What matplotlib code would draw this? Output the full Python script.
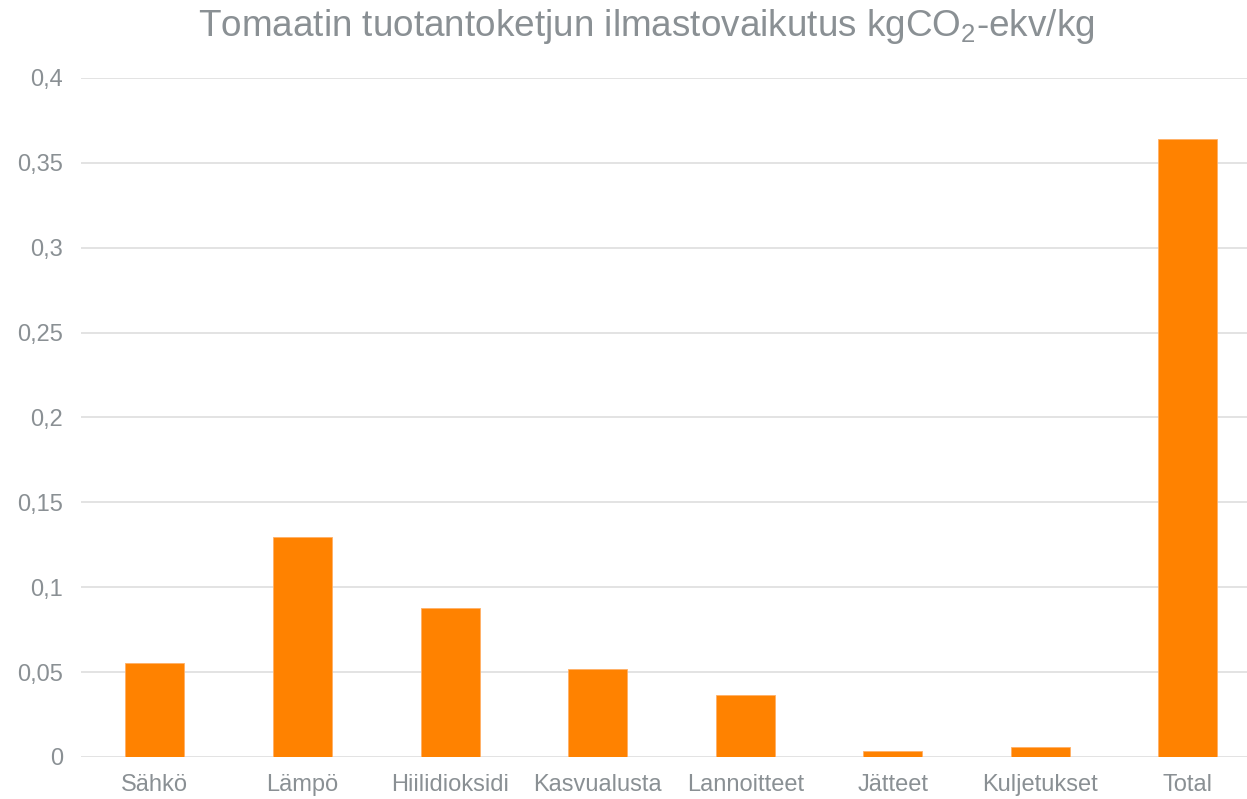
import matplotlib
matplotlib.use("Agg")
import matplotlib.pyplot as plt

# data
kategoriat = ["Sähkö", "Lämpö", "Hiilidioksidi", "Kasvualusta", "Lannoitteet", "Jätteet", "Kuljetukset", "Total"]
arvot = [0.0555, 0.1296, 0.0878, 0.0518, 0.0366, 0.0034, 0.0058, 0.3643]
y_ticks = [0, 0.05, 0.1, 0.15, 0.2, 0.25, 0.3, 0.35, 0.4]
y_labels = ["0", "0,05", "0,1", "0,15", "0,2", "0,25", "0,3", "0,35", "0,4"]

plt.rcParams['font.family'] = ['Liberation Sans', 'DejaVu Sans']
teksti = '#8a9094'

fig = plt.figure(figsize=(12.47, 7.99), dpi=100)
ax = fig.add_axes([0.065, 0.0526, 0.935, 0.8498])

x = list(range(len(kategoriat)))
ax.bar(x, arvot, width=0.4, color='#FF8200', edgecolor='#FFB066', linewidth=0.6, zorder=3)

ax.set_xlim(-0.5, 7.4)
ax.set_ylim(0, 0.4)
ax.set_yticks(y_ticks)
ax.set_yticklabels(y_labels)
ax.set_xticks(x)
ax.set_xticklabels(kategoriat)
ax.tick_params(axis='both', length=0, labelsize=17, labelcolor=teksti)
ax.tick_params(axis='y', pad=13)
ax.tick_params(axis='x', pad=12)
ax.grid(axis='y', color='#e0e0e0', linewidth=1.3, zorder=0)
for s in ax.spines.values():
    s.set_visible(False)

fig.text(646 / 1247, 1 - 27 / 799, r"Tomaatin tuotantoketjun ilmastovaikutus kgCO$\mathregular{_2}$-ekv/kg",
         ha='center', va='center', fontsize=26.6, color=teksti)

fig.savefig("out.png", dpi=100)
